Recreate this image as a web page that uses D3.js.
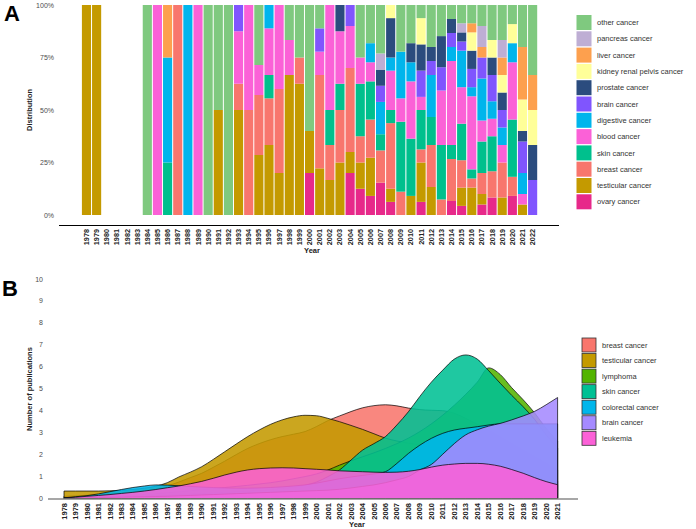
<!DOCTYPE html>
<html><head><meta charset="utf-8">
<script src="https://cdn.jsdelivr.net/npm/d3@7"></script>
<style>body{margin:0;background:#fff} svg{display:block;font-family:"Liberation Sans",Arial,sans-serif}</style>
</head><body><svg id="c" width="696" height="529"></svg>
<script>
// ---------- Panel A data (counts per year, 1978..2022) ----------
const yearsA = d3.range(1978, 2023);
const catsA = ["ovary cancer","testicular cancer","breast cancer","skin cancer","blood cancer","digestive cancer","brain cancer","prostate cancer","kidney renal pelvis cancer","liver cancer","pancreas cancer","other cancer"];
const colorsA = ["#E7298A","#C49A00","#F8766D","#00C08D","#FB61D7","#00B5EC","#8055FE","#2B4C7E","#FFFF99","#FDA04E","#BEAED4","#7FC97F"];
const ovary      = [0,0,0,0,0,0,0,0,0,0, 0,0,0,0,0,0,0,0,0,0, 0,0,1,0,0,0,2,1,1,2, 1,0,0,1,0,0,1,1,0,1, 2,0,1,0,0];
const testicular = [1,1,0,0,0,0,0,0,0,0, 0,0,0,1,0,4,0,2,3,1, 4,5,1,2,1,2,1,1,2,0, 1,0,1,3,2,0,0,2,3,1, 0,1,0,1,0];
const breast     = [0,0,0,0,0,0,0,0,0,1, 0,0,0,0,0,1,1,2,2,2, 0,1,0,4,1,2,4,1,2,2, 5,1,0,1,3,2,3,3,1,2, 3,2,1,0,0];
const skin       = [0,0,0,0,0,0,0,0,1,0, 0,0,0,0,0,0,0,0,1,0, 0,0,0,0,1,1,0,2,2,1, 1,3,3,3,2,7,1,4,1,3, 4,0,3,0,0];
const blood      = [0,0,0,0,0,0,0,1,0,0, 0,1,0,0,0,2,1,1,2,2, 1,0,0,1,3,2,2,1,1,0, 3,1,3,1,0,7,6,4,8,2, 2,1,3,1,0];
const digestive  = [0,0,0,0,0,0,0,0,2,0, 1,0,0,0,0,0,0,0,1,0, 0,0,0,0,0,0,0,0,1,2, 1,2,1,0,3,0,1,4,1,4, 2,1,1,2,0];
const brain      = [0,0,0,0,0,0,0,0,0,0, 0,0,0,0,0,1,0,0,0,0, 0,0,0,1,0,0,1,0,0,1, 0,0,0,2,1,3,1,1,2,2, 3,1,0,3,1];
const prostate   = [0,0,0,0,0,0,0,0,0,0, 0,0,0,0,0,0,0,0,0,0, 0,0,0,0,0,1,0,0,0,1, 3,0,1,2,1,4,1,1,2,0, 2,1,0,1,1];
const kidney     = [0,0,0,0,0,0,0,0,0,0, 0,0,0,0,0,0,0,0,0,0, 0,0,0,0,0,0,0,0,0,0, 1,0,0,2,0,0,0,0,2,0, 2,1,1,3,1];
const liver      = [0,0,0,0,0,0,0,0,1,0, 0,0,0,0,0,0,0,0,0,0, 0,0,0,0,0,0,0,0,0,0, 0,0,0,0,0,0,0,0,1,1, 0,1,0,5,1];
const pancreas   = [0,0,0,0,0,0,0,0,0,0, 0,0,0,0,0,0,0,0,0,0, 0,0,0,0,0,0,0,0,0,1, 0,0,0,0,0,0,0,1,0,2, 0,1,0,0,0];
const other      = [0,0,0,0,0,0,1,0,0,0, 0,0,1,1,1,0,0,2,0,0, 1,2,3,1,0,0,0,2,2,3, 0,2,2,1,3,4,1,2,2,2, 4,2,1,4,2];
const seriesA = [ovary,testicular,breast,skin,blood,digestive,brain,prostate,kidney,liver,pancreas,other];
const yTicksA = [0,0.25,0.5,0.75,1];
const yTickLabelsA = ["0%","25%","50%","75%","100%"];

// ---------- Panel B data (publications, 1978..2021) ----------
const yearsB = d3.range(1978, 2022);
const catsB = ["breast cancer","testicular cancer","lymphoma","skin cancer","colorectal cancer","brain cancer","leukemia"];
const colorsB = ["#F8766D","#C49A00","#53B400","#00C094","#00B6EB","#A58AFF","#FB61D7"];
const breastB = [0.10,0.12,0.15,0.18,0.22,0.27,0.32,0.38,0.45,0.58, 0.75,0.95,1.15,1.42,1.70,2.00,2.28,2.50,2.68,2.82, 2.93,3.05,3.28,3.55,3.76,3.96,4.13,4.23,4.27,4.22, 4.12,4.05,4.02,4.00,3.88,3.65,3.38,3.10,2.80,2.50, 2.20,1.90,1.60,1.30];
const testicularB = [0.34,0.34,0.34,0.34,0.35,0.37,0.41,0.47,0.56,0.72, 0.98,1.20,1.45,1.78,2.13,2.48,2.82,3.12,3.38,3.58, 3.72,3.79,3.77,3.65,3.50,3.33,3.15,2.95,2.75,2.62, 2.52,2.45,2.38,2.28,2.12,1.95,1.75,1.55,1.38,1.25, 1.12,1.00,0.90,0.80];
const lymphomaB = [0.02,0.04,0.06,0.08,0.10,0.12,0.15,0.18,0.22,0.26, 0.30,0.35,0.40,0.45,0.50,0.55,0.60,0.66,0.72,0.80, 0.90,1.00,1.12,1.30,1.52,1.72,1.90,2.08,2.28,2.50, 2.75,3.05,3.40,3.80,4.25,4.75,5.30,5.95,5.65,5.05, 4.50,3.90,3.20,2.60];
const skinB = [0.01,0.02,0.03,0.04,0.05,0.06,0.08,0.10,0.12,0.15, 0.18,0.20,0.22,0.25,0.28,0.30,0.33,0.36,0.40,0.45, 0.50,0.60,0.75,1.00,1.30,1.75,2.20,2.50,2.82,3.35, 3.95,4.65,5.30,5.85,6.35,6.54,6.35,5.82,5.25,4.70, 4.18,3.60,2.90,2.30];
const colorectalB = [0.03,0.08,0.13,0.21,0.31,0.41,0.50,0.57,0.62,0.61, 0.58,0.55,0.52,0.50,0.48,0.47,0.47,0.48,0.50,0.53, 0.57,0.62,0.70,0.80,0.90,0.98,1.05,1.12,1.22,1.60, 2.05,2.43,2.74,2.97,3.12,3.20,3.27,3.35,3.40,3.40, 3.40,3.40,3.40,3.40];
const brainB = [0.01,0.02,0.03,0.04,0.05,0.06,0.07,0.08,0.09,0.10, 0.12,0.14,0.16,0.18,0.20,0.22,0.24,0.26,0.28,0.30, 0.32,0.34,0.36,0.38,0.42,0.48,0.55,0.62,0.72,0.85, 1.00,1.30,1.55,2.02,2.50,2.90,3.13,3.30,3.42,3.58, 3.76,3.97,4.27,4.60];
const leukemiaB = [0.02,0.06,0.10,0.14,0.18,0.23,0.28,0.34,0.41,0.49, 0.57,0.67,0.78,0.92,1.07,1.20,1.30,1.36,1.39,1.40, 1.39,1.36,1.33,1.30,1.26,1.24,1.22,1.20,1.19,1.20, 1.24,1.32,1.43,1.52,1.57,1.60,1.60,1.56,1.47,1.32, 1.15,0.95,0.77,0.63];
const seriesB = [breastB,testicularB,lymphomaB,skinB,colorectalB,brainB,leukemiaB];
const yTicksB = [0,1,2,3,4,5,6,7,8,9,10];

// ---------- Drawing ----------
const svg = d3.select("#c");
const txt = "#4D4D4D";

// Panel A
const xA = d3.scaleBand().domain(yearsA).range([81.4, 537.7]).paddingInner(0.1).paddingOuter(0.05);
const yA = d3.scaleLinear().domain([0,1]).range([215, 5]);
const rowsA = yearsA.map((yr,i) => { const o = {year: yr}; catsA.forEach((c,k) => o[c] = seriesA[k][i]); return o; });
const stackA = d3.stack().keys(catsA).offset(d3.stackOffsetExpand)(rowsA);
const gA = svg.append("g");
stackA.forEach((layer,k) => {
  gA.selectAll(null).data(layer.filter(d => d[1] - d[0] > 0)).join("rect")
    .attr("x", d => xA(d.data.year)).attr("width", xA.bandwidth())
    .attr("y", d => yA(d[1])).attr("height", d => yA(d[0]) - yA(d[1]))
    .attr("fill", colorsA[k]);
});
svg.append("line").attr("x1",59).attr("x2",559).attr("y1",225.5).attr("y2",225.5).attr("stroke","#000").attr("stroke-width",1);
svg.selectAll(null).data(yTicksA).join("text")
  .attr("x", 54).attr("y", d => yA(d) + 2.5).attr("text-anchor","end")
  .attr("font-size", 7).attr("fill", txt).text((d,i) => yTickLabelsA[i]);
svg.selectAll(null).data(yearsA).join("text")
  .attr("transform", d => `translate(${xA(d) + xA.bandwidth()/2 + 2.5},229) rotate(-90)`)
  .attr("text-anchor","end").attr("font-size", 7.3).attr("font-weight","bold").attr("fill","#222").text(d => d);
svg.append("text").attr("x", 312).attr("y", 253).attr("text-anchor","middle").attr("font-size",7.5).attr("font-weight","bold").attr("fill","#222").text("Year");
svg.append("text").attr("transform","translate(32,110) rotate(-90)").attr("text-anchor","middle").attr("font-size",7.5).attr("font-weight","bold").attr("fill","#222").text("Distribution");
svg.append("text").attr("x",4).attr("y",21).attr("font-size",22).attr("font-weight","bold").attr("fill","#000").text("A");

// Legend A (top to bottom: other ... ovary)
const legA = catsA.map((c,k) => ({c, col: colorsA[k]})).reverse();
legA.forEach((d,i) => {
  const cy = 22.5 + i*16.3;
  svg.append("rect").attr("x",576.5).attr("y",cy-7.5).attr("width",15).attr("height",15).attr("fill",d.col);
  svg.append("text").attr("x",597).attr("y",cy+2.6).attr("font-size",7.5).attr("fill","#333").text(d.c);
});

// Panel B
const xB = d3.scaleLinear().domain([1978,2021]).range([64, 557.6]);
const yB = d3.scaleLinear().domain([0,10]).range([498.5, 279]);
const area = d3.area().x((d,i) => xB(yearsB[i])).y0(yB(0)).y1(d => yB(d)).curve(d3.curveMonotoneX);
seriesB.forEach((s,k) => {
  svg.append("path").attr("d", area(s)).attr("fill", colorsB[k]).attr("fill-opacity",0.88)
    .attr("stroke","#000").attr("stroke-width",0.7).attr("stroke-linejoin","round");
});
svg.append("line").attr("x1",48).attr("x2",578).attr("y1",499).attr("y2",499).attr("stroke","#8a8a8a").attr("stroke-width",1.4);
svg.selectAll(null).data(yTicksB).join("text")
  .attr("x", 43).attr("y", d => yB(d) + 2.5).attr("text-anchor","end")
  .attr("font-size", 7).attr("fill", txt).text(d => d);
svg.selectAll(null).data(yearsB).join("text")
  .attr("transform", d => `translate(${xB(d) + 2.6},503) rotate(-90)`)
  .attr("text-anchor","end").attr("font-size", 7.5).attr("font-weight","bold").attr("fill","#222").text(d => d);
svg.append("text").attr("x", 357).attr("y", 527).attr("text-anchor","middle").attr("font-size",7.5).attr("font-weight","bold").attr("fill","#222").text("Year");
svg.append("text").attr("transform","translate(32,389) rotate(-90)").attr("text-anchor","middle").attr("font-size",7.5).attr("font-weight","bold").attr("fill","#222").text("Number of publications");
svg.append("text").attr("x",2).attr("y",296).attr("font-size",22).attr("font-weight","bold").attr("fill","#000").text("B");

// Legend B
catsB.forEach((c,k) => {
  const cy = 345 + k*15.55;
  svg.append("rect").attr("x",582).attr("y",cy-7).attr("width",14).attr("height",14).attr("fill",colorsB[k]).attr("stroke","#333").attr("stroke-width",0.8);
  svg.append("text").attr("x",602).attr("y",cy+2.6).attr("font-size",7.5).attr("fill","#333").text(c);
});
</script></body></html>
